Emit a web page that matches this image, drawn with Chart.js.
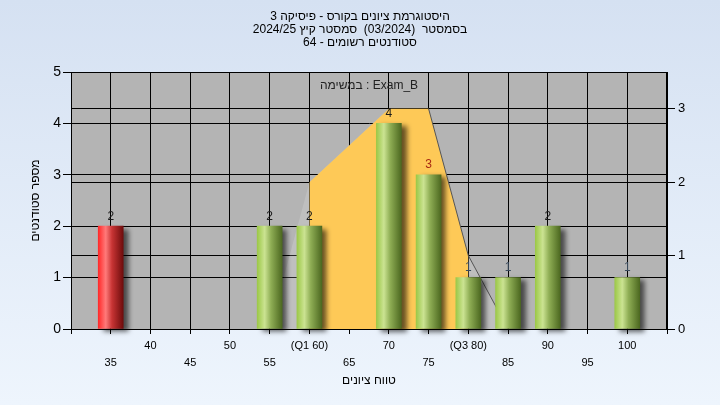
<!DOCTYPE html>
<html>
<head>
<meta charset="utf-8">
<script src="https://cdn.jsdelivr.net/npm/chart.js@4.4.1/dist/chart.umd.min.js"></script>
<style>
  html, body { margin: 0; padding: 0; background: #e4ecf8; }
  #wrap { width: 720px; height: 405px; }
</style>
</head>
<body>
<div id="wrap"><canvas id="histChart" width="720" height="405"></canvas></div>
<script>
// histogram data (score bins and number of students)
const bins = [35, 40, 45, 50, 55, 60, 65, 70, 75, 80, 85, 90, 95, 100];
const counts = [2, 0, 0, 0, 2, 2, 0, 4, 3, 1, 1, 2, 0, 1];
const failBelow = 55;

// distribution curve on the right axis
const curveX = [55, 60, 70, 75, 80, 85];
const curveY = [0, 2, 3, 3, 1, 0];
const q1 = 60, q3 = 80;

const titleLines = [
  'היסטוגרמת ציונים בקורס - פיסיקה 3',
  'בסמסטר  (03/2024)  סמסטר קיץ 2024/25',
  'סטודנטים רשומים - 64'
];
const taskLabel = 'במשימה : Exam_B';
const yTitle = 'מספר סטודנטים';
const xTitle = 'טווח ציונים';

const FONT = "'Liberation Sans', 'DejaVu Sans', sans-serif";

function barFill(c) {
  const chart = c.chart;
  if (!chart.chartArea || !c.raw) return '#9ec84a';
  const x = chart.scales.x.getPixelForValue(c.raw.x);
  const g = chart.ctx.createLinearGradient(x - 12.5, 0, x + 12.5, 0);
  if (c.raw.x < failBelow) {
    g.addColorStop(0, '#ff2a2a');
    g.addColorStop(0.3, '#ff7a7a');
    g.addColorStop(0.55, '#c83434');
    g.addColorStop(1, '#6e0c0c');
  } else {
    g.addColorStop(0, '#9cc848');
    g.addColorStop(0.3, '#cbe392');
    g.addColorStop(0.55, '#8fae55');
    g.addColorStop(1, '#4c6820');
  }
  return g;
}

const bgPlugin = {
  id: 'bg',
  beforeDraw: (chart) => {
    const ctx = chart.ctx;
    const a = chart.chartArea;
    ctx.save();
    const g = ctx.createLinearGradient(0, 0, 0, chart.height);
    g.addColorStop(0, '#d5e1f2');
    g.addColorStop(1, '#eef5fd');
    ctx.fillStyle = g;
    ctx.fillRect(0, 0, chart.width, chart.height);
    ctx.fillStyle = '#b4b4b4';
    ctx.fillRect(a.left, a.top, a.right - a.left, a.bottom - a.top);
    ctx.restore();
  },
  beforeDatasetsDraw: (chart) => {
    const ctx = chart.ctx;
    const a = chart.chartArea;
    ctx.save();
    ctx.strokeStyle = '#000';
    ctx.lineWidth = 1;
    ctx.strokeRect(a.left + 0.5, a.top + 0.5, a.right - a.left - 1, a.bottom - a.top);
    ctx.font = '12px ' + FONT;
    ctx.fillStyle = '#222';
    ctx.textAlign = 'center';
    ctx.textBaseline = 'middle';
    ctx.fillText(taskLabel, (a.left + a.right) / 2, a.top + 14);
    ctx.restore();
  }
};

const shadowPlugin = {
  id: 'barShadow',
  beforeDatasetDraw: (chart, args) => {
    if (args.meta.type !== 'bar') return;
    const ctx = chart.ctx;
    ctx.save();
    ctx.shadowColor = 'rgba(0,0,0,0.6)';
    ctx.shadowBlur = 5;
    ctx.shadowOffsetX = 5;
    ctx.shadowOffsetY = 3;
  },
  afterDatasetDraw: (chart, args) => {
    if (args.meta.type !== 'bar') return;
    chart.ctx.restore();
  }
};

const valueLabels = {
  id: 'valueLabels',
  afterDatasetsDraw: (chart) => {
    const ctx = chart.ctx;
    const meta = chart.getDatasetMeta(0);
    ctx.save();
    ctx.font = '12px ' + FONT;
    ctx.textAlign = 'center';
    ctx.textBaseline = 'bottom';
    meta.data.forEach((bar, i) => {
      if (!counts[i]) return;
      ctx.fillStyle = counts[i] === 3 ? '#a82a12' : (counts[i] === 1 ? '#3a4a5c' : '#1a1a1a');
      ctx.fillText(counts[i], bar.x, bar.y - 4);
    });
    ctx.restore();
  }
};

const barData = bins.map((b, i) => ({ x: b, y: counts[i] || null }));
const curveData = curveX.map((x, i) => ({ x: x, y: curveY[i] }));
const iqrData = curveX.map((x, i) => ({ x: x, y: (x >= q1 && x <= q3) ? curveY[i] : null }));
const edgeData = curveX.map((x, i) => ({ x: x, y: x >= 75 ? curveY[i] : null }));

new Chart(document.getElementById('histChart').getContext('2d'), {
  type: 'bar',
  data: {
    datasets: [{
      type: 'bar',
      label: 'students',
      data: barData,
      yAxisID: 'y',
      backgroundColor: barFill,
      borderWidth: 0,
      barThickness: 25,
      clip: false,
      order: 0
    }, {
      type: 'line',
      label: 'iqr',
      data: iqrData,
      yAxisID: 'y1',
      borderWidth: 0,
      borderColor: 'rgba(0,0,0,0)',
      backgroundColor: '#fec957',
      fill: 'origin',
      pointRadius: 0,
      lineTension: 0,
      spanGaps: false,
      order: 2
    }, {
      type: 'line',
      label: 'edge',
      data: edgeData,
      yAxisID: 'y1',
      borderWidth: 1,
      borderColor: '#555555',
      fill: false,
      pointRadius: 0,
      lineTension: 0,
      order: 1
    }, {
      type: 'line',
      label: 'curve',
      data: curveData,
      yAxisID: 'y1',
      borderWidth: 0,
      borderColor: 'rgba(0,0,0,0)',
      backgroundColor: 'rgba(255,255,255,0.15)',
      fill: 'origin',
      pointRadius: 0,
      lineTension: 0,
      order: 3
    }]
  },
  plugins: [bgPlugin, shadowPlugin, valueLabels],
  options: {
    responsive: false,
    devicePixelRatio: 1,
    animation: false,
    layout: { padding: 0 },
    plugins: {
      legend: { display: false },
      tooltip: { enabled: false },
      title: {
        display: true,
        text: titleLines,
        color: '#000',
        font: { family: FONT, size: 12, weight: 'normal', lineHeight: 13 / 12 },
        padding: { top: 10, bottom: 23 }
      }
    },
    scales: {
      x: {
        type: 'linear',
        min: 30,
        max: 105,
        offset: false,
        afterFit: (s) => { s.height = 76; },
        grid: { color: '#000', tickLength: 5, tickColor: '#000', offset: false },
        border: { color: '#000' },
        ticks: {
          stepSize: 5,
          autoSkip: false,
          maxRotation: 0,
          color: '#000',
          padding: 3,
          font: { family: FONT, size: 11, lineHeight: 17 / 11 },
          callback: (v) => {
            if (v <= 30 || v >= 105) return '';
            let t = String(v);
            if (v === q1) t = '(Q1 ' + v + ')';
            if (v === q3) t = '(Q3 ' + v + ')';
            return v % 10 === 0 ? [t, ''] : ['', t];
          }
        },
        title: {
          display: true,
          text: xTitle,
          color: '#000',
          font: { family: FONT, size: 12 },
          padding: { top: 0, bottom: 17 }
        }
      },
      y: {
        position: 'left',
        min: 0,
        max: 5,
        afterFit: (s) => { s.width = 71; },
        grid: { color: '#000', tickLength: 8, tickColor: '#000' },
        border: { color: '#000' },
        ticks: {
          stepSize: 1,
          color: '#000',
          padding: 2,
          font: { family: FONT, size: 14 }
        },
        title: {
          display: true,
          text: yTitle,
          color: '#000',
          font: { family: FONT, size: 12 },
          padding: { top: 28, bottom: 0 }
        }
      },
      y1: {
        position: 'right',
        min: 0,
        max: 3.5,
        afterFit: (s) => { s.width = 53; },
        afterBuildTicks: (s) => { s.ticks = s.ticks.filter(t => t.value !== 3.5); },
        grid: { color: '#000', tickLength: 8, tickColor: '#000' },
        border: { color: '#000' },
        ticks: {
          stepSize: 1,
          color: '#000',
          padding: 3,
          font: { family: FONT, size: 13 }
        }
      }
    }
  }
});
</script>
</body>
</html>
